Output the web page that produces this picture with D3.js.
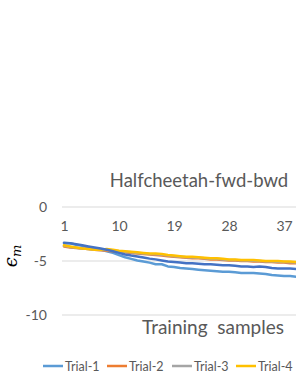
<!DOCTYPE html>
<html>
<head>
<meta charset="utf-8">
<script src="https://cdn.jsdelivr.net/npm/d3@7"></script>
<style>
  body { margin: 0; background: #fff; }
  text { font-family: Lato, "Open Sans", sans-serif; fill: #595959; }
</style>
</head>
<body>
<script>
var width = 296, height = 383

// data (chart is cropped on the right)
var samples = d3.range(1, 41)
var xTicks = [1, 10, 19, 28, 37]
var yTicks = [0, -5, -10]
var seriesNames = ["Trial-1", "Trial-2", "Trial-3", "Trial-4", "Trial-5"]
var seriesColors = ["#5B9BD5", "#ED7D31", "#A5A5A5", "#FFC000", "#4472C4"]

var trial1 = [-3.35, -3.35, -3.5, -3.6, -3.75, -3.85, -3.95, -4.1, -4.25, -4.45,
  -4.65, -4.8, -4.95, -5.05, -5.15, -5.3, -5.3, -5.5, -5.55, -5.65,
  -5.7, -5.75, -5.8, -5.85, -5.9, -5.95, -6.0, -6.0, -6.05, -6.1,
  -6.1, -6.1, -6.15, -6.2, -6.3, -6.35, -6.4, -6.4, -6.45, -6.5]
var trial2 = [-3.65, -3.75, -3.8, -3.85, -3.9, -3.95, -4.0, -4.05, -4.1, -4.15,
  -4.2, -4.25, -4.3, -4.35, -4.4, -4.45, -4.5, -4.55, -4.6, -4.65,
  -4.7, -4.75, -4.75, -4.8, -4.85, -4.85, -4.9, -4.95, -4.95, -5.0,
  -5.0, -5.05, -5.05, -5.1, -5.1, -5.15, -5.15, -5.2, -5.2, -5.2]
var trial3 = [-3.6, -3.7, -3.78, -3.85, -3.9, -3.95, -3.98, -3.98, -4.02, -4.1,
  -4.15, -4.2, -4.25, -4.3, -4.35, -4.38, -4.42, -4.5, -4.55, -4.6,
  -4.65, -4.68, -4.7, -4.75, -4.8, -4.8, -4.85, -4.9, -4.9, -4.95,
  -4.95, -4.98, -5.0, -5.05, -5.05, -5.08, -5.1, -5.12, -5.15, -5.15]
var trial4 = [-3.55, -3.65, -3.75, -3.85, -3.9, -3.95, -3.95, -3.9, -3.95, -4.05,
  -4.1, -4.15, -4.2, -4.25, -4.3, -4.3, -4.35, -4.45, -4.5, -4.55,
  -4.6, -4.6, -4.65, -4.7, -4.75, -4.75, -4.8, -4.85, -4.85, -4.9,
  -4.9, -4.9, -4.95, -5.0, -5.0, -5.0, -5.05, -5.05, -5.1, -5.1]
var trial5 = [-3.3, -3.35, -3.45, -3.55, -3.65, -3.75, -3.85, -3.95, -4.1, -4.25,
  -4.4, -4.5, -4.58, -4.68, -4.78, -4.85, -4.95, -5.05, -5.1, -5.15,
  -5.2, -5.2, -5.25, -5.3, -5.3, -5.35, -5.4, -5.4, -5.45, -5.5,
  -5.5, -5.55, -5.5, -5.55, -5.65, -5.7, -5.7, -5.7, -5.75, -5.8]
var seriesValues = [trial1, trial2, trial3, trial4, trial5]

var svg = d3.select("body").append("svg")
    .attr("width", width)
    .attr("height", height)

var x = d3.scaleLinear().domain([1, 37]).range([64, 284])
var y = d3.scaleLinear().domain([-10, 0]).range([315, 207])

// gridlines
svg.append("g")
  .selectAll("line")
  .data(yTicks)
  .enter().append("line")
    .attr("x1", 62)
    .attr("x2", width)
    .attr("y1", function(d) { return y(d) })
    .attr("y2", function(d) { return y(d) })
    .attr("stroke", "#d9d9d9")
    .attr("stroke-width", 1)

// y tick labels
svg.append("g")
  .selectAll("text")
  .data(yTicks)
  .enter().append("text")
    .attr("x", 47)
    .attr("y", function(d) { return y(d) + 5 })
    .attr("text-anchor", "end")
    .style("font-size", "14px")
    .text(function(d) { return d })

// x axis sits on the 0 line
var xAxis = svg.append("g")
    .attr("transform", "translate(0," + y(0) + ")")
    .call(d3.axisBottom(x).tickValues(xTicks).tickSize(0).tickPadding(14))
xAxis.select(".domain").remove()
xAxis.selectAll("text")
    .style("font-size", "14px")
    .style("font-family", "Lato, 'Open Sans', sans-serif")
    .attr("fill", "#595959")

// lines
var line = d3.line()
    .x(function(d, i) { return x(samples[i]) })
    .y(function(d) { return y(d) })

svg.append("g")
  .selectAll("path")
  .data(seriesValues)
  .enter().append("path")
    .attr("d", line)
    .attr("fill", "none")
    .attr("stroke", function(d, i) { return seriesColors[i] })
    .attr("stroke-width", 2.5)
    .attr("stroke-linejoin", "round")
    .attr("stroke-linecap", "round")

// titles
svg.append("text")
    .attr("x", 199)
    .attr("y", 187)
    .attr("text-anchor", "middle")
    .style("font-size", "18.5px")
    .text("Halfcheetah-fwd-bwd")

svg.append("text")
    .attr("x", 213)
    .attr("y", 334)
    .attr("text-anchor", "middle")
    .style("font-size", "19px")
    .style("white-space", "pre")
    .text("Training  samples")

svg.append("text")
    .attr("transform", "translate(17,256) rotate(-90)")
    .attr("text-anchor", "middle")
    .style("font-size", "18px")
    .style("font-style", "italic")
    .style("font-family", "'DejaVu Serif', serif")
    .style("fill", "#000")
    .html("&#x03F5;<tspan font-size='13px' dy='4'>m</tspan>")

// legend (Trial-5 entry falls outside the crop, so only four are shown)
var legendX = [43, 107, 172, 236]
var legend = svg.append("g")
  .selectAll("g")
  .data(seriesNames.slice(0, 4))
  .enter().append("g")
    .attr("transform", function(d, i) { return "translate(" + legendX[i] + ",366)" })
legend.append("line")
    .attr("x1", 0)
    .attr("x2", 20)
    .attr("stroke", function(d, i) { return seriesColors[i] })
    .attr("stroke-width", 2.5)
legend.append("text")
    .attr("x", 22)
    .attr("y", 4.5)
    .style("font-size", "12.5px")
    .text(function(d) { return d })
</script>
</body>
</html>
